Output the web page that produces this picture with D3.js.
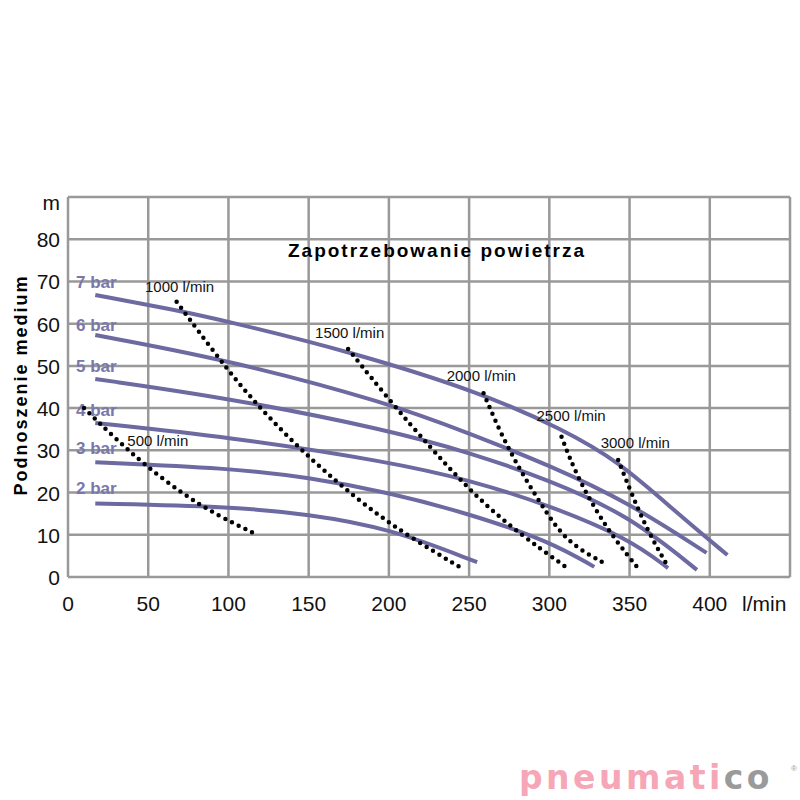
<!DOCTYPE html>
<html><head><meta charset="utf-8">
<script src="https://cdn.jsdelivr.net/npm/d3@7"></script>
<style>body{margin:0;background:#fff}</style>
</head><body>
<svg id="drawing_region"></svg>
<script>
// pump curves: pressure -> [flow l/min, head m]
const pressures = ['7 bar','6 bar','5 bar','4 bar','3 bar','2 bar'];
const labelHeads = [69.8, 59.8, 50, 39.5, 30.5, 21];
const curve7 = [[17,66.8],[67.7,63.2],[100,60.5],[175,53.5],[259,43.5],[308,35],[343,27.5],[380,15],[411,5.2]];
const curve6 = [[17,57.3],[100,51.4],[200,41.2],[250,34],[300,26.5],[350,17.5],[398,5.7]];
const curve5 = [[17,46.9],[100,42.4],[200,34.8],[250,29.5],[300,23],[350,14.5],[392,1.7]];
const curve4 = [[17,36.5],[100,33.2],[200,27.3],[250,23],[300,17],[350,9],[374,2.1]];
const curve3 = [[17,27.2],[100,25.8],[150,23.6],[200,20],[250,15],[300,8.5],[328,2.4]];
const curve2 = [[17,17.4],[100,16.7],[150,14.9],[200,11.6],[255,3.5]];
const curves = [curve7, curve6, curve5, curve4, curve3, curve2];

// air consumption lines
const airLabels = ['500 l/min','1000 l/min','1500 l/min','2000 l/min','2500 l/min','3000 l/min'];
const air500 = [[10,40],[29,33],[47,26.8],[71.4,19.7],[92.6,14.7],[114.8,10.6]];
const air1000 = [[67.7,65.2],[93.6,51.9],[113.4,42.6],[139.4,32.2],[166.4,22.8],[191.3,15.2],[215,9],[244,2.4]];
const air1500 = [[174.6,54],[201.7,41.2],[225.5,30.9],[246,22.3],[269,14],[295,6.5],[312.8,1.7]];
const air2000 = [[259,43.5],[271,32.9],[283.5,24.2],[297,15.9],[311,8.2],[334,3.3]];
const air2500 = [[307.6,33.2],[316.8,24.2],[329.4,15.5],[341.8,8.4],[355.3,2.1]];
const air3000 = [[342.9,27.7],[351.8,19.2],[361.6,10.7],[374,2.4]];
const airs = [air500, air1000, air1500, air2000, air2500, air3000];
const airLabelPos = [[37,31],[48,67.5],[154,56.5],[236,46.5],[292,37],[332,30.5]];

const xTicks = [0,50,100,150,200,250,300,350,400];
const yTicks = [0,10,20,30,40,50,60,70,80];

const width = 800, height = 800;
const svg = d3.select('#drawing_region').attr('width', width).attr('height', height);
const xscale = d3.scaleLinear().domain([0,450]).range([68,790]);
const yscale = d3.scaleLinear().domain([0,90]).range([577,197]);
const font = 'Arial, "Liberation Sans", sans-serif';

// grid
const grid = svg.append('g').attr('stroke','#999').attr('stroke-width',2.5);
d3.range(0,451,50).forEach(v => grid.append('line')
    .attr('x1',xscale(v)).attr('x2',xscale(v)).attr('y1',yscale(0)).attr('y2',yscale(90)));
d3.range(0,91,10).forEach(v => grid.append('line')
    .attr('y1',yscale(v)).attr('y2',yscale(v)).attr('x1',xscale(0)).attr('x2',xscale(450)));

// tick labels
svg.append('g').selectAll('text').data(xTicks).enter().append('text')
    .attr('x', d => xscale(d)).attr('y', 611).attr('text-anchor','middle')
    .style('font-family',font).style('font-size','21px').attr('fill','#111').text(d => d);
svg.append('text').attr('x',742).attr('y',611).style('font-family',font).style('font-size','21px').attr('fill','#111').text('l/min');
svg.append('g').selectAll('text').data(yTicks).enter().append('text')
    .attr('x', 60).attr('y', d => yscale(d) + 8).attr('text-anchor','end')
    .style('font-family',font).style('font-size','21px').attr('fill','#111').text(d => d);
svg.append('text').attr('x',60).attr('y',yscale(90)+13).attr('text-anchor','end')
    .style('font-family',font).style('font-size','21px').attr('fill','#111').text('m');

svg.append('text').attr('transform','translate(27,385) rotate(-90)').attr('text-anchor','middle')
    .style('font-family',font).style('font-size','18px').style('font-weight','bold')
    .attr('letter-spacing','2').text('Podnoszenie medium');

svg.append('text').attr('x',437).attr('y',257).attr('text-anchor','middle')
    .style('font-family',font).style('font-size','19px').style('font-weight','900')
    .attr('letter-spacing','2').text('Zapotrzebowanie powietrza');

// pump curves
const line = d3.line().x(d => xscale(d[0])).y(d => yscale(d[1])).curve(d3.curveBasis);
svg.append('g').selectAll('path').data(curves).enter().append('path')
    .attr('d', line).attr('fill','none').attr('stroke','#6c6aa0').attr('stroke-width',4);

svg.append('g').selectAll('text').data(pressures).enter().append('text')
    .attr('x', 76).attr('y', (d,i) => yscale(labelHeads[i]) + 6)
    .style('font-family',font).style('font-size','17px').style('font-weight','bold')
    .attr('fill','#7a78aa').text(d => d);

// air lines
const airLine = d3.line().x(d => xscale(d[0])).y(d => yscale(d[1])).curve(d3.curveBasis);
svg.append('g').selectAll('path').data(airs).enter().append('path')
    .attr('d', airLine).attr('fill','none').attr('stroke','#000').attr('stroke-width',4.5)
    .attr('stroke-linecap','round').attr('stroke-dasharray','0,7.5');

svg.append('g').selectAll('text').data(airLabels).enter().append('text')
    .attr('x', (d,i) => xscale(airLabelPos[i][0])).attr('y', (d,i) => yscale(airLabelPos[i][1]))
    .style('font-family',font).style('font-size','15px').attr('fill','#111').text(d => d);

// logo
const logo = svg.append('text').attr('x',519).attr('y',789)
    .style('font-family','"DejaVu Sans", sans-serif').style('font-size','33px').style('font-weight','bold')
    .attr('letter-spacing','3.5');
logo.append('tspan').attr('fill','#f6a6b6').text('pneumati');
logo.append('tspan').attr('fill','#9a9a9a').text('co');
svg.append('text').attr('x',791).attr('y',771).style('font-family',font).style('font-size','8px')
    .attr('fill','#9a9a9a').text('®');
</script>
</body></html>
